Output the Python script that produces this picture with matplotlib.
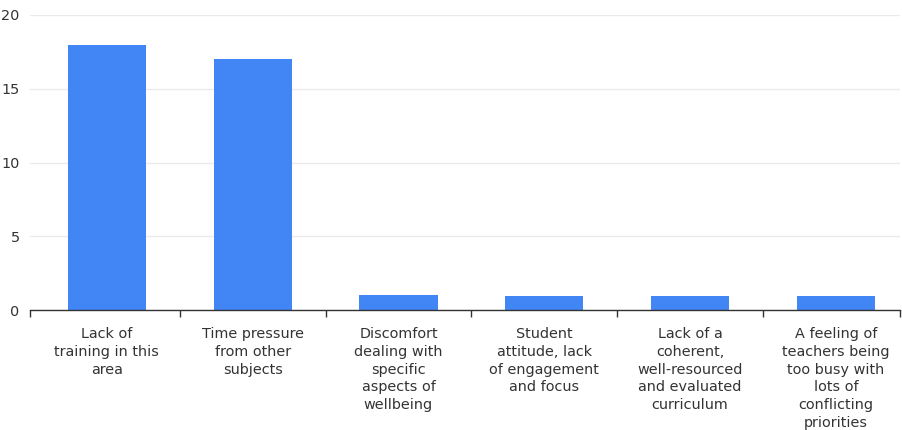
import matplotlib.pyplot as plt
import numpy as np

categories = [
    "Lack of\ntraining in this\narea",
    "Time pressure\nfrom other\nsubjects",
    "Discomfort\ndealing with\nspecific\naspects of\nwellbeing",
    "Student\nattitude, lack\nof engagement\nand focus",
    "Lack of a\ncoherent,\nwell-resourced\nand evaluated\ncurriculum",
    "A feeling of\nteachers being\ntoo busy with\nlots of\nconflicting\npriorities",
]
values = [18, 17, 1, 0.95, 0.95, 0.95]
y_ticks = [0, 5, 10, 15, 20]

text_color = "#333333"

fig = plt.figure(figsize=(9.02, 4.30), dpi=100)
ax = fig.add_axes([30 / 902, 1 - 310 / 430, 870 / 902, 295 / 430])

x = np.arange(len(categories))
ax.bar(x, values, width=0.536, color="#4285F4", zorder=2)

ax.set_xlim(-0.527, 5.44)
ax.set_ylim(0, 20)

# grid
ax.set_yticks(y_ticks)
ax.yaxis.grid(True, color="#ebebeb", linewidth=1, zorder=0)
ax.tick_params(axis="y", length=0, pad=7.5, labelsize=10.4, labelcolor=text_color)

# x axis: labels at centers, ticks at boundaries
ax.set_xticks(x)
ax.set_xticklabels(categories, fontsize=10.4, color=text_color, linespacing=1.33, va="top")
ax.tick_params(axis="x", which="major", length=0, pad=12.5)
bounds = list(np.arange(len(categories) - 1) + 0.5) + [-0.527, 5.44]
ax.set_xticks(bounds, minor=True)
ax.tick_params(axis="x", which="minor", length=5, width=1, color=text_color, direction="out")

for s in ["top", "right", "left"]:
    ax.spines[s].set_visible(False)
ax.spines["bottom"].set_color(text_color)
ax.spines["bottom"].set_linewidth(1)
ax.spines["bottom"].set_zorder(3)

fig.savefig("out.png", dpi=100)
